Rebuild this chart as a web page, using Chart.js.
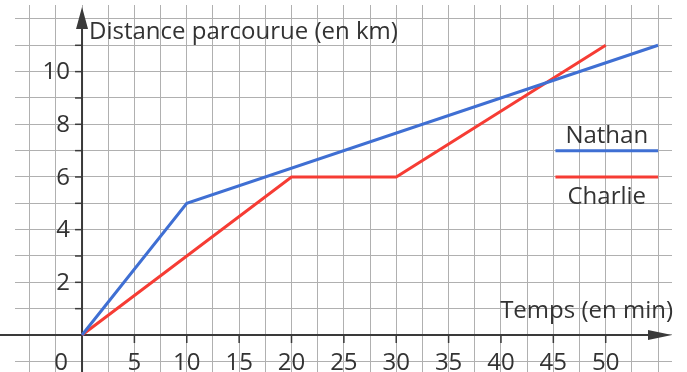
<!DOCTYPE html>
<html>
<head>
<meta charset="utf-8">
<script src="https://cdn.jsdelivr.net/npm/chart.js@4"></script>
<style>
  body { margin: 0; background: #fff; }
  #wrap { width: 687px; height: 372px; position: relative; }
</style>
</head>
<body>
<div id="wrap"><canvas id="myChart"></canvas></div>
<script>
// temps (min) / distance (km)
const nathanTemps = [0, 10, 55];
const nathanDist = [0, 5, 11];
const charlieTemps = [0, 20, 30, 50];
const charlieDist = [0, 6, 6, 11];

const xTickLabels = [5, 10, 15, 20, 25, 30, 35, 40, 45, 50];
const yTickLabels = [2, 4, 6, 8, 10];
const seriesNames = ['Nathan', 'Charlie'];
const xTitle = 'Temps (en min)';
const yTitle = 'Distance parcourue (en km)';

const BLUE = '#3f6fd3';
const RED = '#f63c34';
const AXIS = '#3a3a3a';
const TEXT = '#333333';
const FONT = '"Open Sans", sans-serif';

function toPoints(xs, ys) {
    return xs.map((x, i) => ({ x: x, y: ys[i] }));
}

// grid every 2.5 min and every 1 km
function gridTicks(from, to, step) {
    const t = [];
    for (let v = from; v <= to + 1e-9; v += step) t.push({ value: v });
    return t;
}

const axesPlugin = {
    id: 'axes',
    beforeDatasetsDraw(chart) {
        const ctx = chart.ctx;
        const xs = chart.scales.x;
        const ys = chart.scales.y;
        const x0 = xs.getPixelForValue(0);
        const y0 = ys.getPixelForValue(0);
        ctx.save();
        ctx.strokeStyle = AXIS;
        ctx.fillStyle = AXIS;
        ctx.lineWidth = 2;

        // x axis + arrow
        ctx.beginPath();
        ctx.moveTo(0, y0);
        ctx.lineTo(655, y0);
        ctx.stroke();
        ctx.beginPath();
        ctx.moveTo(672, y0);
        ctx.lineTo(648, y0 - 5);
        ctx.lineTo(648, y0 + 5);
        ctx.closePath();
        ctx.fill();

        // y axis + arrow
        ctx.beginPath();
        ctx.moveTo(x0, chart.height);
        ctx.lineTo(x0, 20);
        ctx.stroke();
        ctx.beginPath();
        ctx.moveTo(x0, 7);
        ctx.lineTo(x0 - 6, 29);
        ctx.lineTo(x0 + 6, 29);
        ctx.closePath();
        ctx.fill();

        // small ticks
        ctx.lineWidth = 1.5;
        for (let k = 1; k <= 11; k++) {
            const py = ys.getPixelForValue(k);
            ctx.beginPath();
            ctx.moveTo(x0 - 7, py);
            ctx.lineTo(x0, py);
            ctx.stroke();
        }
        xTickLabels.forEach(v => {
            const px = xs.getPixelForValue(v);
            ctx.beginPath();
            ctx.moveTo(px, y0);
            ctx.lineTo(px, y0 + 8);
            ctx.stroke();
        });

        // tick labels
        ctx.fillStyle = TEXT;
        ctx.font = '24px ' + FONT;
        ctx.textBaseline = 'middle';
        ctx.textAlign = 'right';
        yTickLabels.forEach(v => {
            ctx.fillText(String(v), x0 - 12, ys.getPixelForValue(v) + 1);
        });
        ctx.fillText('0', x0 - 14, 363);
        ctx.textAlign = 'center';
        xTickLabels.forEach(v => {
            ctx.fillText(String(v), xs.getPixelForValue(v), 363);
        });

        // axis titles
        ctx.font = '24px ' + FONT;
        ctx.textAlign = 'left';
        ctx.fillText(yTitle, x0 + 7, 32);
        ctx.textAlign = 'right';
        ctx.fillText(xTitle, 673, 311);

        // legend
        const lx1 = xs.getPixelForValue(45.2);
        const lx2 = xs.getPixelForValue(55);
        const lc = (lx1 + lx2) / 2;
        ctx.lineWidth = 3;
        ctx.strokeStyle = BLUE;
        ctx.beginPath();
        ctx.moveTo(lx1, ys.getPixelForValue(7));
        ctx.lineTo(lx2, ys.getPixelForValue(7));
        ctx.stroke();
        ctx.strokeStyle = RED;
        ctx.beginPath();
        ctx.moveTo(lx1, ys.getPixelForValue(6));
        ctx.lineTo(lx2, ys.getPixelForValue(6));
        ctx.stroke();
        ctx.textAlign = 'center';
        ctx.fillText(seriesNames[0], lc, 136);
        ctx.fillText(seriesNames[1], lc, 197);
        ctx.restore();
    }
};

new Chart(document.getElementById('myChart').getContext('2d'), {
    type: 'line',
    data: {
        datasets: [{
            label: seriesNames[0],
            data: toPoints(nathanTemps, nathanDist),
            borderColor: BLUE,
            borderWidth: 3,
            pointRadius: 0,
            tension: 0
        }, {
            label: seriesNames[1],
            data: toPoints(charlieTemps, charlieDist),
            borderColor: RED,
            borderWidth: 3,
            pointRadius: 0,
            tension: 0
        }]
    },
    options: {
        responsive: true,
        maintainAspectRatio: false,
        animation: false,
        layout: { padding: { left: 15, right: 15, top: 5, bottom: 0 } },
        plugins: { legend: { display: false }, tooltip: { enabled: false } },
        scales: {
            x: {
                type: 'linear',
                min: -6.4,
                max: 56.33,
                afterBuildTicks: axis => { axis.ticks = gridTicks(-5, 55, 2.5); },
                ticks: { display: false },
                grid: { color: '#b0b0b0', lineWidth: 1, drawTicks: false },
                border: { display: false }
            },
            y: {
                type: 'linear',
                min: -1.405,
                max: 12.53,
                afterBuildTicks: axis => { axis.ticks = gridTicks(-1, 12, 1); },
                ticks: { display: false },
                grid: { color: '#b0b0b0', lineWidth: 1, drawTicks: false },
                border: { display: false }
            }
        }
    },
    plugins: [axesPlugin]
});
</script>
</body>
</html>
